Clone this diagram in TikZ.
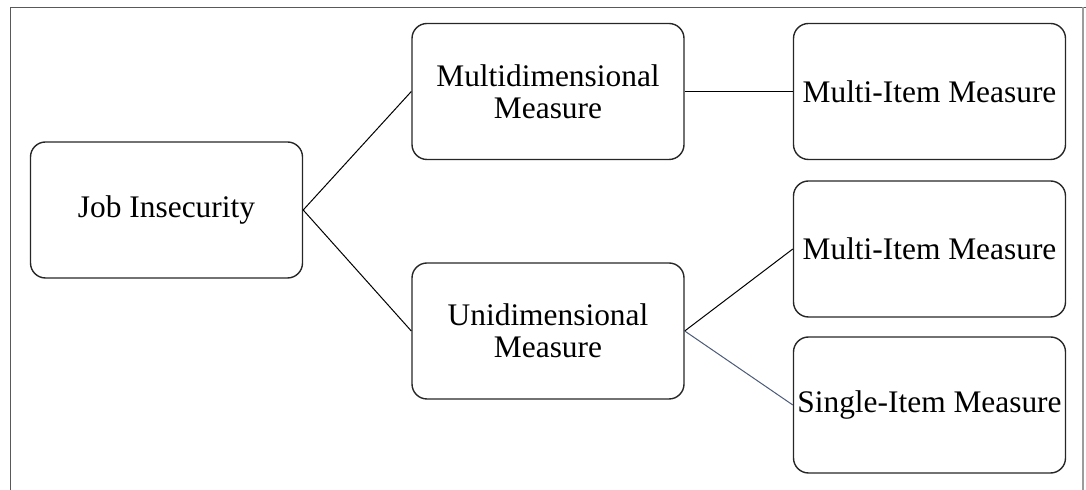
\documentclass[tikz,border=0pt]{standalone}
\usepackage{fontspec}
\setmainfont{Liberation Serif}
\colorlet{box edge}{black!85}
\colorlet{frame edge}{black!65}
\definecolor{slate link}{HTML}{4A5A78}
\tikzset{measure/.style={draw=box edge, line width=0.7pt, rounded corners=7.5pt,
    minimum width=136pt, minimum height=68pt, inner sep=0pt, align=center,
    font=\fontsize{15.7}{16}\selectfont},
    link/.style={draw=black, line width=0.5pt}}

\begin{document}
\begin{tikzpicture}[x=0.5pt,y=-0.5pt]
    \useasboundingbox (0,0) rectangle (1086,490);
    \draw[frame edge, line width=0.9pt] (10.5,490) -- (10.5,7.5) -- (1086,7.5);
    \draw[frame edge!60, line width=0.6pt] (1083,7.5) -- (1083,490);
    \node[measure] (job)      at (166.5,210)  {Job Insecurity};
    \node[measure] (multidim) at (548,91.5)   {Multidimensional\\Measure};
    \node[measure] (unidim)   at (548,331)    {Unidimensional\\Measure};
    \node[measure] (multiA)   at (929.5,91.5) {Multi-Item Measure};
    \node[measure] (multiB)   at (929.5,249)  {Multi-Item Measure};
    \node[measure] (single)   at (929.5,405)  {Single-Item Measure};
    \draw[link] (job.east) -- (multidim.west);
    \draw[link] (job.east) -- (unidim.west);
    \draw[link] (multidim.east) -- (multiA.west);
    \draw[link] (unidim.east) -- (multiB.west);
    \draw[link, slate link] (unidim.east) -- (single.west);
\end{tikzpicture}
\end{document}
